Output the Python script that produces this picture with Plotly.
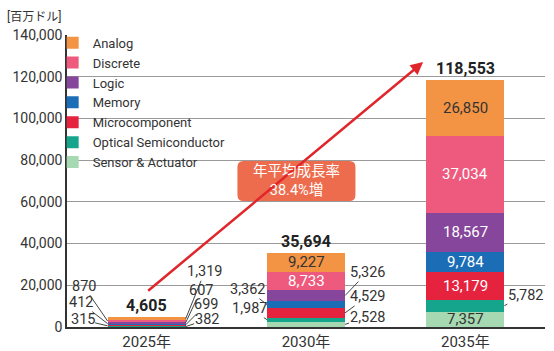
import plotly.graph_objects as go

years = ["2025年", "2030年", "2035年"]
series_names = ["Sensor & Actuator", "Optical Semiconductor", "Microcomponent",
                "Memory", "Logic", "Discrete", "Analog"]
sensor = [382, 2528, 7357]
optical = [315, 1987, 5782]
micro = [699, 4529, 13179]
memory = [412, 3362, 9784]
logic = [607, 5326, 18567]
discrete = [870, 8733, 37034]
analog = [1319, 9227, 26850]
totals = [4605, 35694, 118553]
y_ticks = [0, 20000, 40000, 60000, 80000, 100000, 120000, 140000]

series_values = [sensor, optical, micro, memory, logic, discrete, analog]
colors = ["#A6D9B1", "#14A58C", "#E5233F", "#1B6DB5", "#86469B", "#EE5A7D", "#F39344"]

DARK = "#333333"
WHITE = "#FFFFFF"
# label placement per (series index, year index): ("in", color) or ("out", ax, ay)
label_style = {
    (6, 0): ("out", 19, -47), (5, 0): ("out", -24, -35), (4, 0): ("out", 15, -32),
    (3, 0): ("out", -27, -21), (2, 0): ("out", 20, -20), (1, 0): ("out", -25, -6),
    (0, 0): ("out", 21, -7),
    (6, 1): ("in", DARK), (5, 1): ("in", WHITE), (4, 1): ("out", 22, -23),
    (3, 1): ("out", -19, -15), (2, 1): ("out", 22, -16), (1, 1): ("out", -17, -11),
    (0, 1): ("out", 22, -7),
    (6, 2): ("in", DARK), (5, 2): ("in", WHITE), (4, 2): ("in", WHITE),
    (3, 2): ("in", WHITE), (2, 2): ("in", WHITE), (1, 2): ("out", 21, -10),
    (0, 2): ("in", DARK),
}

FONT = "Roboto, 'Noto Sans CJK JP', sans-serif"
BAR_W = 0.49

fig = go.Figure()
for name, vals, col in zip(series_names, series_values, colors):
    fig.add_trace(go.Bar(x=years, y=vals, name=name, marker_color=col,
                         marker_line_width=0, width=BAR_W, hoverinfo="skip"))

annotations = []
for j in range(len(years)):
    base = 0
    for i, vals in enumerate(series_values):
        v = vals[j]
        mid = base + v / 2
        base += v
        st = label_style[(i, j)]
        txt = f"{v:,}"
        if st[0] == "in":
            annotations.append(dict(x=j, y=mid, text=txt, showarrow=False,
                                    font=dict(size=15, color=st[1], family=FONT)))
        else:
            ax, ay = st[1], st[2]
            edge = j + BAR_W / 2 if ax > 0 else j - BAR_W / 2
            annotations.append(dict(x=edge, y=mid, text=txt, showarrow=True,
                                    arrowhead=0, arrowwidth=1, arrowcolor="#444444",
                                    ax=ax, ay=ay, standoff=0, borderpad=0,
                                    font=dict(size=14.5, color=DARK, family=FONT)))
    annotations.append(dict(x=j, y=totals[j], text=f"<b>{totals[j]:,}</b>", showarrow=False,
                            yanchor="bottom", yshift=0,
                            font=dict(size=16, color="#222222", family=FONT)))

# growth arrow
annotations.append(dict(x=1.735, y=127000, ax=0.0, ay=16800, axref="x", ayref="y",
                        xref="x", yref="y", showarrow=True, arrowhead=2, arrowsize=1,
                        arrowwidth=2.5, arrowcolor="#E0262B", text=""))

# callout box
box_x, box_y = 0.94, 70000
hw, hh, r = 59, 20, 6
path = (f"M {-hw + r},{-hh} L {hw - r},{-hh} Q {hw},{-hh} {hw},{-hh + r} "
        f"L {hw},{hh - r} Q {hw},{hh} {hw - r},{hh} L {-hw + r},{hh} "
        f"Q {-hw},{hh} {-hw},{hh - r} L {-hw},{-hh + r} Q {-hw},{-hh} {-hw + r},{-hh} Z")
fig.add_shape(type="path", xref="x", yref="y", xsizemode="pixel", ysizemode="pixel",
              xanchor=box_x, yanchor=box_y, path=path, fillcolor="#EE6C4E",
              line=dict(width=0), layer="above")
annotations.append(dict(x=box_x, y=box_y, text="年平均成長率<br>38.4%増", showarrow=False,
                        font=dict(size=14.5, color="white", family=FONT)))

annotations.append(dict(xref="paper", yref="paper", x=-0.13, y=1.03, xanchor="left",
                        yanchor="bottom", text="[百万ドル]", showarrow=False,
                        font=dict(size=12, color=DARK, family=FONT)))

fig.update_layout(
    width=554, height=351,
    margin=dict(l=67, r=9, t=35, b=24),
    barmode="stack",
    plot_bgcolor="white", paper_bgcolor="white",
    font=dict(family=FONT, color=DARK),
    showlegend=True,
    legend=dict(x=-0.03, y=1.025, xanchor="left", yanchor="top", traceorder="reversed",
                bgcolor="rgba(0,0,0,0)", font=dict(size=13, color=DARK),
                tracegroupgap=0, itemwidth=30),
    annotations=annotations,
    xaxis=dict(type="category", range=[-0.5, 2.5], showgrid=False, ticks="",
               showline=True, linecolor="#333333", linewidth=1.5, automargin=False,
               tickfont=dict(size=15, color=DARK), ticklen=0),
    yaxis=dict(range=[0, 140000], tickvals=y_ticks, tickformat=",", showgrid=True,
               gridcolor="#9A9A9A", gridwidth=1, showline=True, linecolor="#333333",
               linewidth=1.5, tickfont=dict(size=14, color=DARK), ticks="",
               zeroline=False, automargin=False),
)

fig.write_html("out.html")
